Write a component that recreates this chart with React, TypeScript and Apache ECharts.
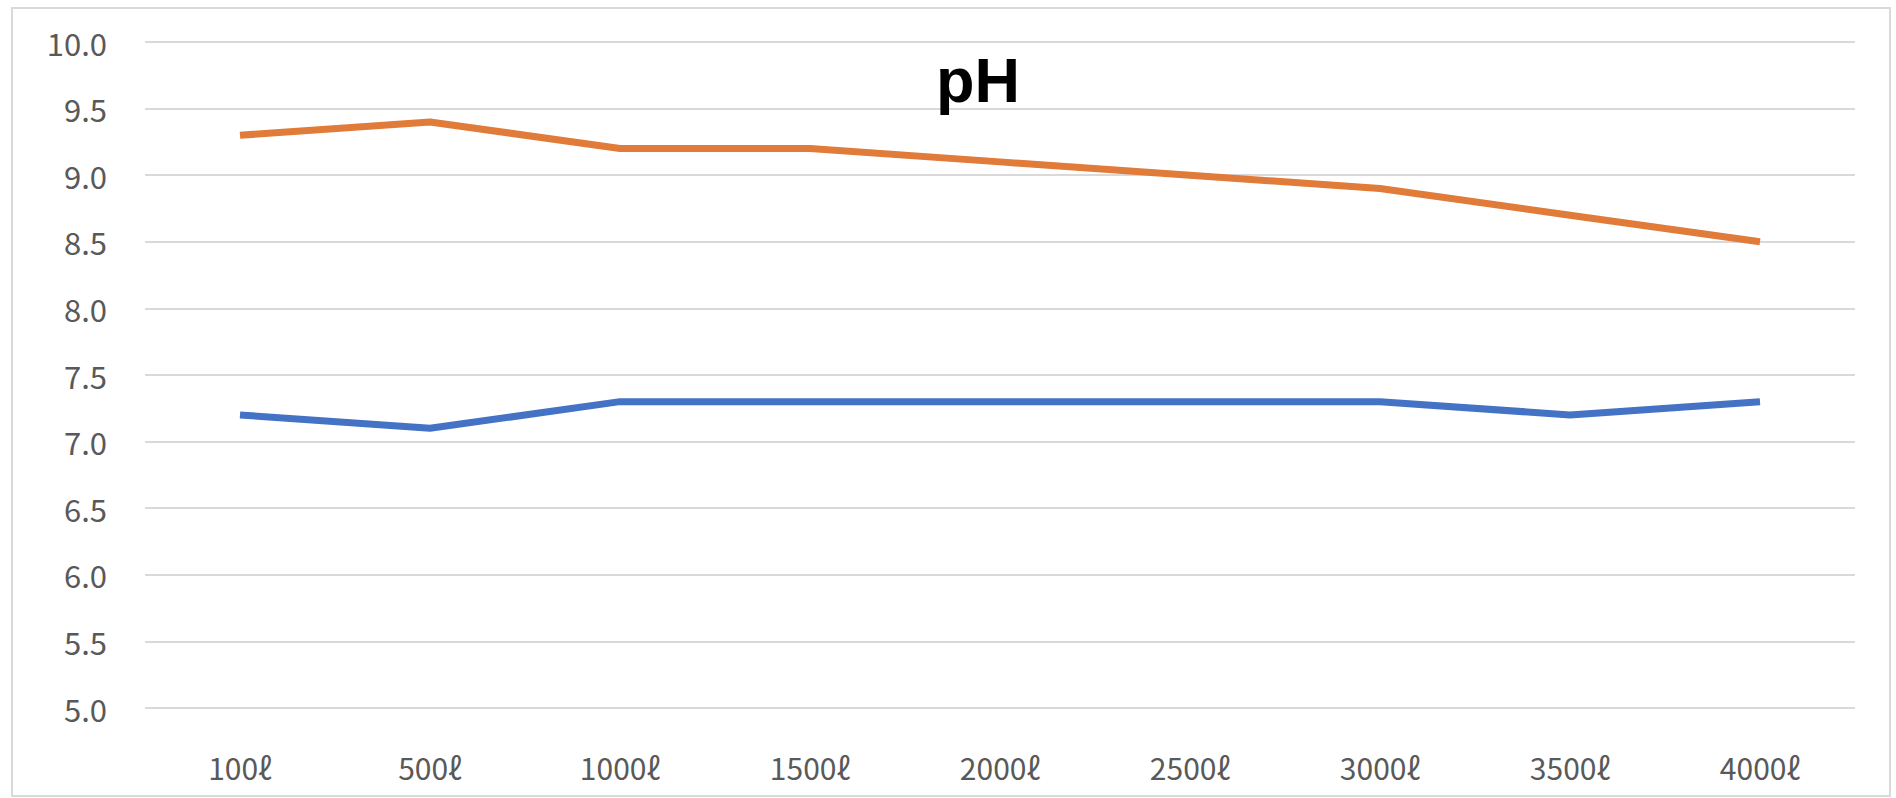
import React, { useEffect, useRef } from "react";
import * as echarts from "echarts";

const categories = ["100ℓ", "500ℓ", "1000ℓ", "1500ℓ", "2000ℓ", "2500ℓ", "3000ℓ", "3500ℓ", "4000ℓ"];
const orangeSeries = [9.3, 9.4, 9.2, 9.2, 9.1, 9.0, 8.9, 8.7, 8.5];
const blueSeries = [7.2, 7.1, 7.3, 7.3, 7.3, 7.3, 7.3, 7.2, 7.3];
const titleText = "pH";
const yMin = 5;
const yMax = 10;
const yStep = 0.5;

export default function App() {
  const ref = useRef<HTMLDivElement>(null);
  useEffect(() => {
    document.body.style.margin = "0";
    if (!ref.current) return;
    const chart = echarts.init(ref.current, undefined, { renderer: "svg" });
    const labelFont = "'Noto Sans CJK KR', 'Noto Sans', sans-serif";
    chart.setOption({
      animation: false,
      backgroundColor: "#ffffff",
      title: {
        text: titleText,
        left: 931,
        top: 43,
        textStyle: {
          fontFamily: "'Liberation Sans', Arial, sans-serif",
          fontWeight: "bold",
          fontSize: 63,
          color: "#000000",
        },
      },
      graphic: [
        {
          type: "rect",
          shape: { x: 12, y: 8, width: 1878, height: 788 },
          style: { fill: "none", stroke: "#d9d9d9", lineWidth: 2 },
          silent: true,
          z: -1,
        },
      ],
      grid: { left: 145, right: 41, top: 42, bottom: 90 },
      xAxis: {
        type: "category",
        data: categories,
        boundaryGap: true,
        axisLine: { show: false },
        axisTick: { show: false },
        axisLabel: {
          margin: 44,
          fontSize: 30,
          fontFamily: labelFont,
          color: "#595959",
        },
      },
      yAxis: {
        type: "value",
        min: yMin,
        max: yMax,
        interval: yStep,
        axisLine: { show: false },
        axisTick: { show: false },
        axisLabel: {
          margin: 38,
          fontSize: 31,
          fontFamily: labelFont,
          color: "#595959",
          formatter: (v: number) => v.toFixed(1),
        },
        splitLine: { lineStyle: { color: "#d9d9d9", width: 2 } },
      },
      series: [
        {
          type: "line",
          data: blueSeries,
          symbol: "none",
          lineStyle: { color: "#4472C4", width: 7 },
          itemStyle: { color: "#4472C4" },
        },
        {
          type: "line",
          data: orangeSeries,
          symbol: "none",
          lineStyle: { color: "#E07B39", width: 7 },
          itemStyle: { color: "#E07B39" },
        },
      ],
    });
    return () => chart.dispose();
  }, []);
  return <div ref={ref} style={{ width: 1896, height: 798 }} />;
}
